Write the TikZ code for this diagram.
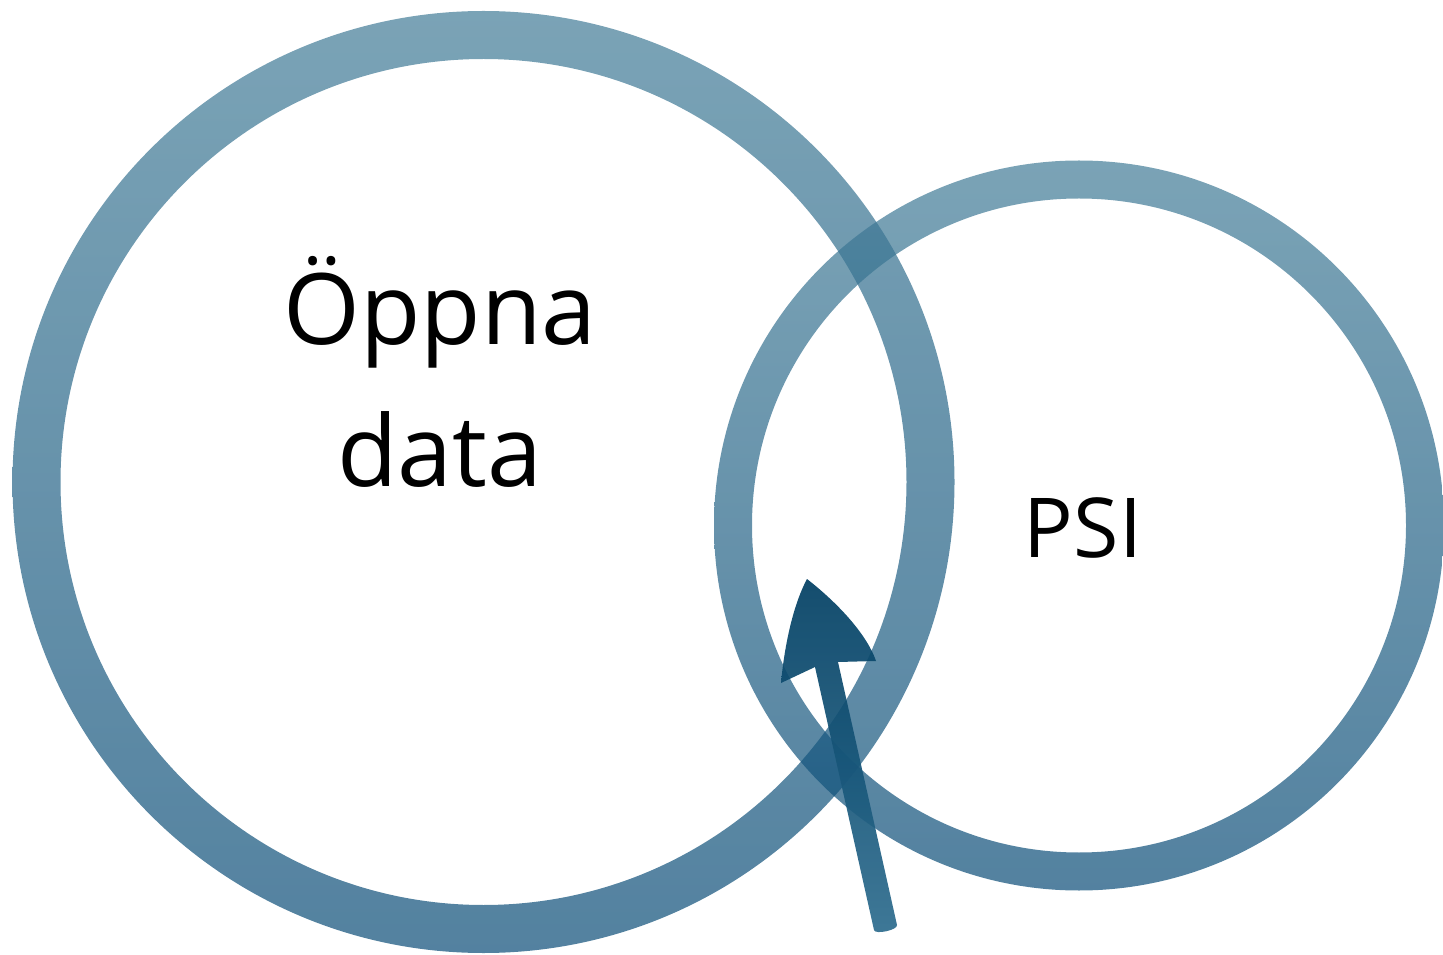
\documentclass[tikz,border=0pt]{standalone}
\usepackage{fontspec}
\setmainfont{Open Sans}
\begin{document}
\begin{tikzpicture}[x=0.75pt,y=-0.75pt,
  ring/.style={even odd rule, top color=ringtop, bottom color=ringbot, fill opacity=0.7, draw=none},
  arrowshape/.style={top color=arrtop, bottom color=arrbot, fill opacity=0.92, draw=none},
  bigtext/.style={anchor=base, font=\fontsize{74}{90}\selectfont, inner sep=0pt},
  smalltext/.style={anchor=base, font=\fontsize{62}{74}\selectfont, inner sep=0pt}]
\definecolor{ringtop}{RGB}{66,124,151}
\definecolor{ringbot}{RGB}{10,76,119}
\definecolor{arrtop}{RGB}{0,62,98}
\definecolor{arrbot}{RGB}{45,108,142}
\useasboundingbox (0,0) rectangle (1443,955);
% big ring
\coordinate (c1) at (483.5,482);
\shade[ring] (c1) circle[radius=471] (c1) circle[radius=423];
% small ring
\coordinate (c2) at (1079,525.5);
\shade[ring] (c2) circle[radius=365] (c2) circle[radius=327];
% arrow
\coordinate (tip) at (807,579);
\coordinate (lc) at (781,683);
\coordinate (rc) at (876,661);
\coordinate (sl) at (815,667);
\coordinate (sr) at (838,662);
\coordinate (bl) at (874,930);
\coordinate (br) at (897,925);
\shade[arrowshape] (tip) .. controls (834,600) and (866,632) .. (rc)
  -- (sr) -- (br) .. controls (898,930) and (875,935) .. (bl) -- (sl) -- (lc)
  .. controls (784,650) and (792,607) .. (tip) -- cycle;
% texts
\node[bigtext] (t1) at (440,345) {Öppna};
\node[bigtext] (t2) at (440,487) {data};
\node[smalltext] (t3) at (1083,557) {PSI};
\end{tikzpicture}
\end{document}
